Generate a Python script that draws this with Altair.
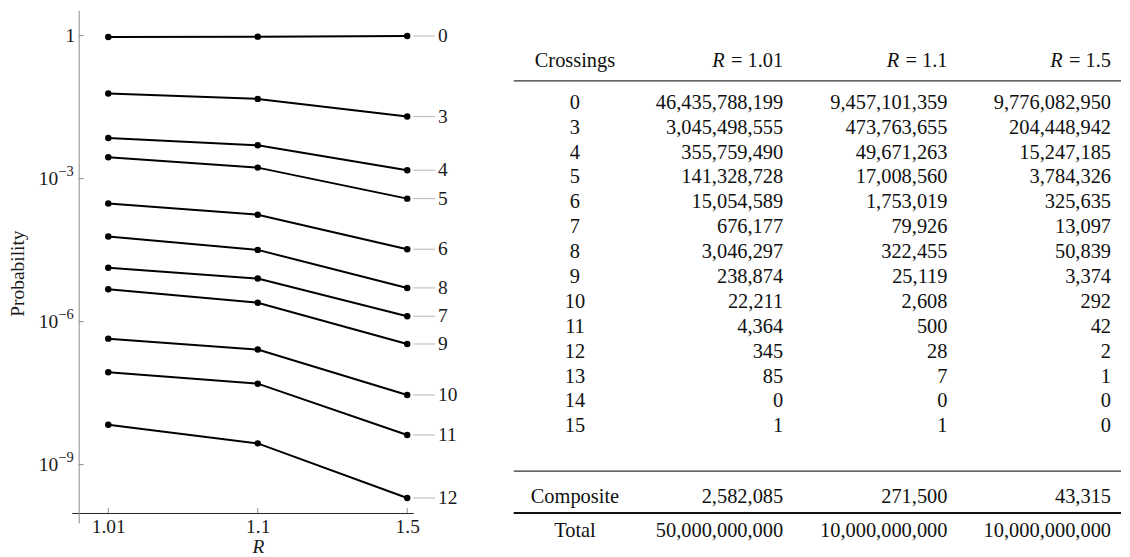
import altair as alt
import pandas as pd

FONT = "Liberation Serif"

# ---------------- data ----------------
R_values = ["1.01", "1.1", "1.5"]

# plotted series: probability of each crossing number
series_crossings = ["0", "3", "4", "5", "6", "7", "8", "9", "10", "11", "12"]
prob_R101 = [0.93, 0.061, 0.0071, 0.0028, 3.0e-4, 1.35e-5, 6.1e-5, 4.8e-6, 4.4e-7, 8.7e-8, 6.9e-9]
prob_R11 = [0.95, 0.047, 0.0050, 0.0017, 1.75e-4, 8.0e-6, 3.2e-5, 2.5e-6, 2.6e-7, 5.0e-8, 2.8e-9]
prob_R15 = [0.98, 0.020, 0.0015, 3.8e-4, 3.3e-5, 1.3e-6, 5.1e-6, 3.4e-7, 2.9e-8, 4.2e-9, 2.0e-10]

y_tick_values = [1, 1e-3, 1e-6, 1e-9]
y_tick_base = ["1", "10", "10", "10"]
y_tick_exp = ["", "\u22123", "\u22126", "\u22129"]

# table
table_crossings = ["0", "3", "4", "5", "6", "7", "8", "9", "10", "11", "12", "13", "14", "15"]
count_R101 = [46435788199, 3045498555, 355759490, 141328728, 15054589, 676177, 3046297,
              238874, 22211, 4364, 345, 85, 0, 1]
count_R11 = [9457101359, 473763655, 49671263, 17008560, 1753019, 79926, 322455,
             25119, 2608, 500, 28, 7, 0, 1]
count_R15 = [9776082950, 204448942, 15247185, 3784326, 325635, 13097, 50839,
             3374, 292, 42, 2, 1, 0, 0]
composite = [2582085, 271500, 43315]
total = [50000000000, 10000000000, 10000000000]

# ---------------- left: log plot ----------------
W, H = 343, 515
FS = 19.5
TXT = "#1a1a1a"

plot_df = pd.DataFrame({
    "crossings": series_crossings * 3,
    "R": [r for r in R_values for _ in series_crossings],
    "p": prob_R101 + prob_R11 + prob_R15,
})

x_scale = alt.Scale(type="point", domain=R_values, padding=0.1422, align=0.86)
y_scale = alt.Scale(type="log", domain=[6e-11, 3.4], nice=False)

x_axis = alt.Axis(title="R", titleFontStyle="italic", titleFont=FONT, titleFontSize=FS,
                  titleFontWeight="normal", titleColor=TXT, titleX=187, titleY=34,
                  titleBaseline="middle", titleAlign="center",
                  offset=-10, ticks=False, tickSize=0, labelPadding=5, labelAngle=0,
                  labelFont=FONT, labelFontSize=FS, labelColor=TXT,
                  domainColor="#222222", domainWidth=1, grid=False)
y_axis = alt.Axis(values=y_tick_values, labels=False, title="Probability",
                  titleFont=FONT, titleFontSize=FS, titleFontWeight="normal", titleColor=TXT,
                  titleAngle=270, titleX=-61, titleY=264, titleAlign="center",
                  titleBaseline="middle",
                  offset=-7, ticks=False, tickSize=0,
                  domainColor="#8a8a8a", domainWidth=1, grid=False)

X = alt.X("R:N", scale=x_scale, sort=R_values, axis=x_axis)
Y = alt.Y("p:Q", scale=y_scale, axis=y_axis)

base = alt.Chart(plot_df).encode(x=X, y=Y)
lines = base.mark_line(color="black", strokeWidth=2).encode(detail="crossings:N")
points = base.mark_circle(color="black", size=42, opacity=1)

end = base.transform_filter(alt.datum.R == R_values[-1])
leaders = end.mark_rule(color="#b5b5b5", strokeWidth=1, xOffset=6, x2Offset=28).encode(
    x2=alt.X2("R:N"))
end_labels = end.mark_text(align="left", baseline="middle", dx=31, font=FONT,
                           fontSize=FS, color=TXT).encode(text="crossings:N")

ytick_df = pd.DataFrame({"p": y_tick_values, "base": y_tick_base, "exp": y_tick_exp})
yticks = alt.Chart(ytick_df).mark_rule(color="#8a8a8a", strokeWidth=1).encode(
    y=Y, x=alt.value(7), x2=alt.value(12))
ylab_plain = alt.Chart(ytick_df).transform_filter(alt.datum.exp == "").mark_text(
    align="right", baseline="middle", font=FONT, fontSize=FS, color=TXT).encode(
    y=Y, x=alt.value(3.5), text="base:N")
ylab_base = alt.Chart(ytick_df).transform_filter(alt.datum.exp != "").mark_text(
    align="right", baseline="middle", font=FONT, fontSize=FS, color=TXT).encode(
    y=Y, x=alt.value(-13.5), text="base:N")
ylab_exp = alt.Chart(ytick_df).transform_filter(alt.datum.exp != "").mark_text(
    align="left", baseline="middle", font=FONT, fontSize=14.5, dy=-7, color=TXT).encode(
    y=Y, x=alt.value(-13.5), text="exp:N")

xtick_df = pd.DataFrame({"R": R_values})
xticks = alt.Chart(xtick_df).mark_rule(color="#8a8a8a", strokeWidth=1).encode(
    x=X, y=alt.value(H - 15), y2=alt.value(H - 10))

plot = alt.layer(lines, points, leaders, end_labels, yticks, ylab_plain, ylab_base,
                 ylab_exp, xticks).properties(width=W, height=H)

# ---------------- right: table ----------------
TW, TH = 610, 535
TFS = 20.5
COL0_X = 61.5
VAL_X = [270.7, 435.7, 600.0]
slot = {"hdr": -1.68, "rule1": -0.88, "rule2": 14.8, "Composite": 15.84,
        "rule3": 16.48, "Total": 17.2}
slot.update({c: i for i, c in enumerate(table_crossings)})

advance = {"=": 0.564, " ": 0.25, ".": 0.25}


def text_w(s):
    return sum(advance.get(ch, 0.5) for ch in s)


recs = [dict(text="Crossings", x=COL0_X, slot=slot["hdr"], kind="center")]
for j, r in enumerate(R_values):
    rest = "= " + r
    recs.append(dict(text=rest, x=VAL_X[j], slot=slot["hdr"], kind="right"))
    recs.append(dict(text="R", x=VAL_X[j] - (text_w(rest) + 0.3) * TFS,
                     slot=slot["hdr"], kind="italic"))
columns = [count_R101, count_R11, count_R15]
for i, c in enumerate(table_crossings):
    recs.append(dict(text=c, x=COL0_X, slot=slot[c], kind="center"))
    for j, arr in enumerate(columns):
        recs.append(dict(text=f"{arr[i]:,}", x=VAL_X[j], slot=slot[c], kind="right"))
for name, arr in (("Composite", composite), ("Total", total)):
    recs.append(dict(text=name, x=COL0_X, slot=slot[name], kind="center"))
    for j in range(3):
        recs.append(dict(text=f"{arr[j]:,}", x=VAL_X[j], slot=slot[name], kind="right"))
table_df = pd.DataFrame(recs)

t_y = alt.Y("slot:Q", scale=alt.Scale(domain=[0, 13], range=[93, 418]), axis=None)
t_x = alt.X("x:Q", scale=None, axis=None)
tbase = alt.Chart(table_df).encode(x=t_x, y=t_y, text="text:N")
t_center = tbase.transform_filter(alt.datum.kind == "center").mark_text(
    align="center", baseline="middle", font=FONT, fontSize=TFS, color="#111111")
t_right = tbase.transform_filter(alt.datum.kind == "right").mark_text(
    align="right", baseline="middle", font=FONT, fontSize=TFS, color="#111111")
t_italic = tbase.transform_filter(alt.datum.kind == "italic").mark_text(
    align="right", baseline="middle", font=FONT, fontSize=TFS, fontStyle="italic",
    color="#111111")

thin_df = pd.DataFrame({"slot": [slot["rule1"], slot["rule2"]]})
thick_df = pd.DataFrame({"slot": [slot["rule3"]]})
thin_rules = alt.Chart(thin_df).mark_rule(color="#333333", strokeWidth=1.2).encode(
    y=t_y, x=alt.value(0), x2=alt.value(TW))
thick_rules = alt.Chart(thick_df).mark_rule(color="#111111", strokeWidth=2).encode(
    y=t_y, x=alt.value(0), x2=alt.value(TW))

table = alt.layer(thin_rules, thick_rules, t_center, t_right, t_italic).properties(
    width=TW, height=TH)

chart = alt.hconcat(plot, table, spacing=101, bounds="flush").properties(
    padding={"left": 0, "top": 1, "right": 0, "bottom": 6}
).configure(
    font=FONT,
    view=alt.ViewConfig(stroke="transparent", strokeWidth=0),
)

chart.save("out.html", embed_options={"renderer": "svg", "actions": False})
